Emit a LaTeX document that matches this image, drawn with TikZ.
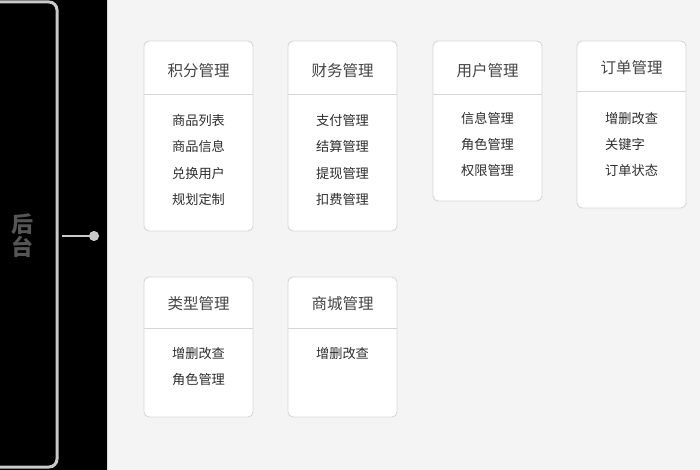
\documentclass[tikz,border=0pt]{standalone}
\usepackage{fontspec}
\setmainfont{Noto Sans CJK SC}
\usetikzlibrary{arrows.meta}

\definecolor{panelgray}{HTML}{F4F4F4}
\definecolor{edgegray}{HTML}{DADADA}
\definecolor{cardline}{HTML}{D6D6D6}
\definecolor{brackgray}{HTML}{C9C9C9}
\definecolor{titletext}{HTML}{444444}
\definecolor{itemtext}{HTML}{2E2E2E}
\definecolor{sidetext}{HTML}{555555}

\tikzset{
  card/.style={draw=cardline, fill=white, rounded corners=5pt, line width=0.9pt},
  divider/.style={draw=cardline, line width=0.9pt},
  cardtitle/.style={font=\fontsize{15.5}{17}\selectfont, text=titletext, inner sep=0pt},
  carditem/.style={font=\fontsize{13.2}{15}\selectfont, text=itemtext, inner sep=0pt},
  link/.style={draw=brackgray, line width=1.6pt, -{Circle[length=10pt]}},
}

\begin{document}
\begin{tikzpicture}[x=1pt,y=-1pt]
        \useasboundingbox (0,0) rectangle (700,470);

        % draw background
        \fill[black] (0,0) rectangle (107,470);
        \fill[panelgray] (107,0) rectangle (700,470);
        \draw[edgegray, line width=1pt] (107,0) -- (107,470);

        % draw bracket and side label
        \draw[brackgray, line width=3pt, rounded corners=8pt] (-10,2) -| (57,467) -- (-10,467);
        \node[font=\fontsize{22}{23}\selectfont\bfseries, text=sidetext, align=center, inner sep=0pt] (houtai) at (23,236) {后\\台};
        \coordinate (brk) at (62,236);
        \coordinate (tip) at (99,236);
        \draw[link] (brk) -- (tip);

        % draw cards
        \draw[card] (144,41) rectangle (253,231);
        \draw[card] (288,41) rectangle (397,231);
        \draw[card] (433,41) rectangle (542,201);
        \draw[card] (577,41) rectangle (686,208);
        \draw[card] (144,277) rectangle (253,417);
        \draw[card] (288,277) rectangle (397,417);

        % draw dividers
        \foreach \x in {144,288,433}
          \draw[divider] (\x,94) -- (\x+109,94);
        \draw[divider] (577,91) -- (686,91);
        \foreach \x in {144,288}
          \draw[divider] (\x,328) -- (\x+109,328);

        % draw titles
        \node[cardtitle] (jifen) at (198.5,71) {积分管理};
        \node[cardtitle] (caiwu) at (342.5,71) {财务管理};
        \node[cardtitle] (yonghu) at (487.5,71) {用户管理};
        \node[cardtitle] (dingdan) at (631.5,68) {订单管理};
        \node[cardtitle] (leixing) at (198.5,304) {类型管理};
        \node[cardtitle] (shangcheng) at (342.5,304) {商城管理};

        % draw items
        \foreach \y/\t in {120/商品列表,146.5/商品信息,173/兑换用户,199.5/规划定制}
          \node[carditem] at (198.5,\y) {\t};
        \foreach \y/\t in {120/支付管理,146.5/结算管理,173/提现管理,199.5/扣费管理}
          \node[carditem] at (342.5,\y) {\t};
        \foreach \y/\t in {118/信息管理,144.5/角色管理,170/权限管理}
          \node[carditem] at (487.5,\y) {\t};
        \foreach \y/\t in {118/增删改查,144.5/关键字,170/订单状态}
          \node[carditem, anchor=west] at (605,\y) {\t};
        \foreach \y/\t in {353.5/增删改查,379.5/角色管理}
          \node[carditem] at (198.5,\y) {\t};
        \node[carditem] at (342.5,353.5) {增删改查};
\end{tikzpicture}
\end{document}
